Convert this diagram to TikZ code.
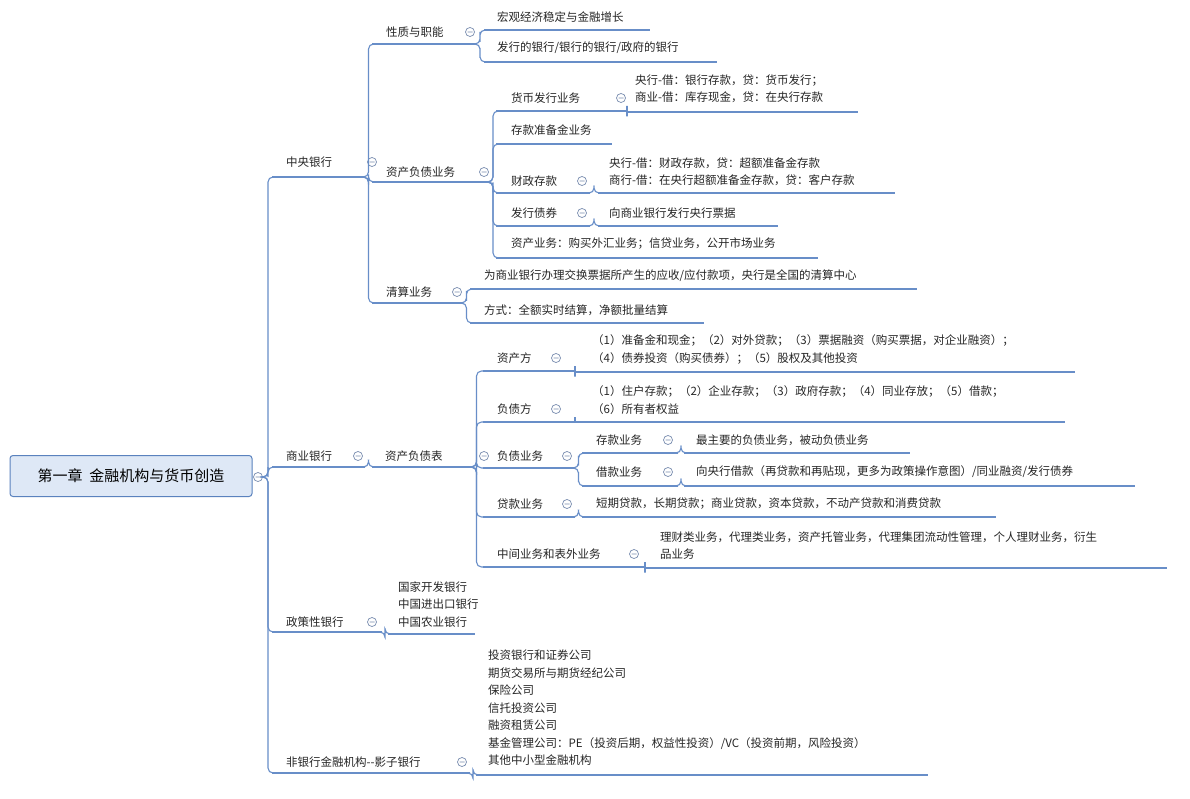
\documentclass[tikz,border=0pt]{standalone}
\usepackage{fontspec}
\newfontfamily\cjk{Noto Sans CJK SC}
\usetikzlibrary{calc}
\definecolor{lc}{RGB}{104,142,200}
\definecolor{cc}{RGB}{120,140,175}
\definecolor{rootd}{RGB}{90,130,190}
\definecolor{rootf}{RGB}{222,232,246}
\tikzset{
 tx/.style={font=\cjk\fontsize{11.5}{17.5}\selectfont, inner sep=0pt, anchor=west, align=left, text=black!85},
 ul/.style={draw=lc, line width=1.1pt},
 cn/.style={draw=lc, line width=1.1pt, rounded corners=5pt},
}
\newcommand\topic[8]{%
 \node[tx] (#1) at (#2,#3) {#7};
 \coordinate (#1-l) at (#5,#4); \coordinate (#1-r) at (#6,#4);
 \draw[ul] (#1-l) -- (#1-r);
 \if\relax\detokenize{#8}\relax\else
  \draw[cc, line width=0.7pt] (#8,#3) circle (4.5) ($(#8,#3)+(-2.5,0)$) -- ($(#8,#3)+(2.5,0)$);\fi}
\newcommand\conn[2]{\draw[cn] (#1-r) -| ($(#1-r)!0.5!(#2-l)$) |- (#2-l);}
\begin{document}
\begin{tikzpicture}[x=1pt,y=-1pt]
\useasboundingbox[fill=white] (0,0) rectangle (1190,799);
% root
\node[draw=rootd, fill=rootf, line width=1pt, rounded corners=3pt, minimum width=242, minimum height=41, font=\cjk\fontsize{15}{18}\selectfont] (root) at (131,476) {第一章\ \ 金融机构与货币创造};
\draw[cc, line width=0.7pt] (258,477) circle (4.5) (255.5,477) -- (260.5,477);
\coordinate (root-r) at (264,477);
% level 1
\topic{zy}{286}{162}{177}{272}{365}{中央银行}{372}
\topic{sy}{286}{456}{467}{272}{365}{商业银行}{358}
\topic{zc}{286}{622}{632}{272}{382}{政策性银行}{372}
\topic{fy}{286}{762}{773}{272}{470}{非银行金融机构--影子银行}{462}
\conn{root}{zy}\conn{root}{sy}\conn{root}{zc}\conn{root}{fy}
% central bank
\topic{xz}{386}{32}{44}{372}{476}{性质与职能}{470}
\topic{zf}{386}{172}{182}{372}{490}{资产负债业务}{484}
\topic{qs}{386}{292}{303}{372}{463}{清算业务}{457}
\conn{zy}{xz}\conn{zy}{zf}\conn{zy}{qs}
\topic{xz1}{497}{17}{30}{484}{650}{宏观经济稳定与金融增长}{}
\topic{xz2}{497}{48}{62}{484}{717}{发行的银行/银行的银行/政府的银行}{}
\conn{xz}{xz1}\conn{xz}{xz2}
\topic{hb}{511}{98}{111}{496}{627}{货币发行业务}{621}
\topic{ck}{511}{130}{144}{496}{612}{存款准备金业务}{}
\topic{cz}{511}{181}{193}{496}{590}{财政存款}{582}
\topic{zq}{511}{213}{226}{496}{590}{发行债券}{582}
\topic{zcyw}{511}{244}{258}{496}{818}{资产业务：购买外汇业务；信贷业务，公开市场业务}{}
\conn{zf}{hb}\conn{zf}{ck}\conn{zf}{cz}\conn{zf}{zq}\conn{zf}{zcyw}
\topic{hb1}{635}{89}{112}{627}{858}{央行-借：银行存款，贷：货币发行；\\商业-借：库存现金，贷：在央行存款}{}
\topic{cz1}{609}{171.5}{193}{598}{895}{央行-借：财政存款，贷：超额准备金存款\\商行-借：在央行超额准备金存款，贷：客户存款}{}
\topic{zq1}{609}{213}{226}{598}{778}{向商业银行发行央行票据}{}
\conn{hb}{hb1}\conn{cz}{cz1}\conn{zq}{zq1}
\topic{qs1}{484}{276}{289}{470}{917}{为商业银行办理交换票据所产生的应收/应付款项，央行是全国的清算中心}{}
\topic{qs2}{484}{310}{323}{470}{704}{方式：全额实时结算，净额批量结算}{}
\conn{qs}{qs1}\conn{qs}{qs2}
% commercial bank
\topic{fz}{385}{456}{467}{372}{470}{资产负债表}{484}
\conn{sy}{fz}
\topic{zcf}{497}{358}{371}{483}{575}{资产方}{556}
\topic{fzf}{497}{409}{422}{483}{575}{负债方}{556}
\topic{fzyw}{497}{456}{468}{483}{575}{负债业务}{567}
\topic{dk}{497}{504}{517}{483}{575}{贷款业务}{567}
\topic{zj}{497}{554}{567}{483}{645}{中间业务和表外业务}{634}
\conn{fz}{zcf}\conn{fz}{fzf}\conn{fz}{fzyw}\conn{fz}{dk}\conn{fz}{zj}
\topic{zcf1}{592}{349.5}{372}{575}{1075}{（1）准备金和现金；（2）对外贷款；（3）票据融资（购买票据，对企业融资）；\\（4）债券投资（购买债券）；（5）股权及其他投资}{}
\topic{fzf1}{592}{400}{422}{575}{1065}{（1）住户存款；（2）企业存款；（3）政府存款；（4）同业存放；（5）借款；\\（6）所有者权益}{}
\conn{zcf}{zcf1}\conn{fzf}{fzf1}
\topic{ckyw}{596}{440}{453}{582}{678}{存款业务}{668}
\topic{jkyw}{596}{472}{486}{582}{678}{借款业务}{668}
\conn{fzyw}{ckyw}\conn{fzyw}{jkyw}
\topic{ckyw1}{696}{440}{453}{684}{910}{最主要的负债业务，被动负债业务}{}
\topic{jkyw1}{696}{472}{486}{684}{1135}{向央行借款（再贷款和再贴现，更多为政策操作意图）/同业融资/发行债券}{}
\conn{ckyw}{ckyw1}\conn{jkyw}{jkyw1}
\topic{dk1}{596}{504}{517}{582}{996}{短期贷款，长期贷款；商业贷款，资本贷款，不动产贷款和消费贷款}{}
\conn{dk}{dk1}
\topic{zj1}{660}{545.5}{568}{645}{1167}{理财类业务，代理类业务，资产托管业务，代理集团流动性管理，个人理财业务，衍生\\品业务}{}
\conn{zj}{zj1}
% policy banks
\topic{zc1}{398}{604.5}{634}{388}{475}{国家开发银行\\中国进出口银行\\中国农业银行}{}
\conn{zc}{zc1}
% non-bank
\topic{fy1}{488}{708}{775}{476}{928}{投资银行和证券公司\\期货交易所与期货经纪公司\\保险公司\\信托投资公司\\融资租赁公司\\基金管理公司：PE（投资后期，权益性投资）/VC（投资前期，风险投资）\\其他中小型金融机构}{}
\conn{fy}{fy1}
\end{tikzpicture}
\end{document}
